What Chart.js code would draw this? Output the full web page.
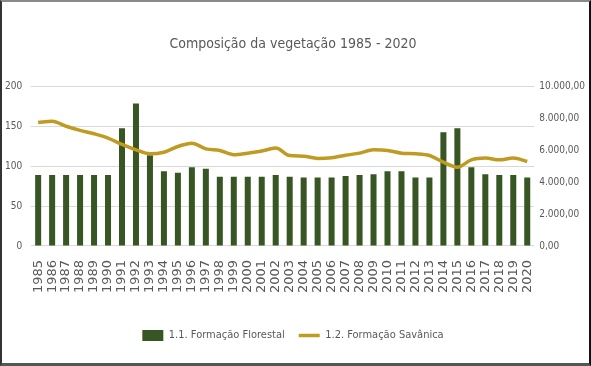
<!DOCTYPE html>
<html lang="pt-BR">
<head>
<meta charset="UTF-8">
<title>Composição da vegetação 1985 - 2020</title>
<script src="https://cdn.jsdelivr.net/npm/chart.js"></script>
<style>
  html, body { margin: 0; padding: 0; background: #fff; }
  #frame {
    width: 591px; height: 366px; box-sizing: border-box;
    border-top: 2px solid #8a8a8a; border-left: 2px solid #333;
    border-right: 2px solid #111; border-bottom: 3px solid #555;
    position: relative; overflow: hidden;
  }
  #wrap { position: absolute; left: 0; top: 0; width: 587px; height: 361px; }
</style>
</head>
<body>
<div id="frame"><div id="wrap"><canvas id="grafico"></canvas></div></div>
<script>
// Dados
const anos = ["1985","1986","1987","1988","1989","1990","1991","1992","1993","1994","1995","1996",
  "1997","1998","1999","2000","2001","2002","2003","2004","2005","2006","2007","2008",
  "2009","2010","2011","2012","2013","2014","2015","2016","2017","2018","2019","2020"];

// 1.1. Formação Florestal (eixo da esquerda)
const florestal = [89, 89, 89, 89, 89, 89, 148, 179, 114, 94, 92, 99,
  97, 87, 87, 87, 87, 89, 87, 86, 86, 86, 88, 89,
  90, 94, 94, 86, 86, 143, 148, 99, 90, 89, 89, 86];

// 1.2. Formação Savânica (eixo da direita)
const savanica = [7750, 7830, 7520, 7260, 7050, 6780, 6380, 6040, 5790, 5890, 6250, 6460,
  6100, 6000, 5730, 5830, 5960, 6150, 5680, 5640, 5500, 5540, 5700, 5830,
  6040, 6000, 5830, 5790, 5680, 5260, 4950, 5410, 5520, 5410, 5520, 5310];

const ticksEsquerda = [0, 50, 100, 150, 200];
const ticksDireita = [0, 2000, 4000, 6000, 8000, 10000];

const cinza = "#595959";
const fonteTexto = "'DejaVu Sans Condensed', Roboto, sans-serif";

function formataBR(v) {
  const partes = v.toFixed(2).split(".");
  partes[0] = partes[0].replace(/\B(?=(\d{3})+(?!\d))/g, ".");
  return partes.join(",");
}

const ctx = document.getElementById("grafico").getContext("2d");
new Chart(ctx, {
  data: {
    labels: anos,
    datasets: [
      {
        type: "line",
        label: "1.2. Formação Savânica",
        data: savanica,
        yAxisID: "y2",
        borderColor: "#c09b22",
        backgroundColor: "#c09b22",
        borderWidth: 3.5,
        pointRadius: 0,
        cubicInterpolationMode: "monotone",
        pointStyle: "line",
        order: 0
      },
      {
        type: "bar",
        label: "1.1. Formação Florestal",
        data: florestal,
        yAxisID: "y",
        backgroundColor: "#375623",
        borderWidth: 0,
        barPercentage: 0.5,
        categoryPercentage: 0.86,
        pointStyle: "rect",
        order: 1
      }
    ]
  },
  options: {
    responsive: true,
    maintainAspectRatio: false,
    animation: false,
    layout: { padding: { left: -6, right: -1, top: 0, bottom: 12 } },
    plugins: {
      title: {
        display: true,
        text: "Composição da vegetação 1985 - 2020",
        color: cinza,
        font: { family: fonteTexto, size: 14, weight: "normal" },
        padding: { top: 34, bottom: 34 }
      },
      legend: {
        position: "bottom",
        reverse: true,
        labels: {
          color: cinza,
          font: { family: fonteTexto, size: 11 },
          usePointStyle: true,
          pointStyleWidth: 21,
          boxHeight: 13,
          padding: 14
        }
      },
      tooltip: { enabled: false }
    },
    scales: {
      x: {
        grid: { display: false, drawTicks: false },
        border: { display: false },
        afterFit: (axis) => { axis.height += 9; },
        ticks: {
          color: cinza,
          font: { family: "'DejaVu Sans', sans-serif", size: 13 },
          minRotation: 90,
          maxRotation: 90,
          autoSkip: false,
          padding: 14
        }
      },
      y: {
        position: "left",
        min: 0,
        max: 200,
        afterBuildTicks: (axis) => { axis.ticks = ticksEsquerda.map(v => ({ value: v })); },
        grid: { color: "#d9d9d9", lineWidth: 1, drawTicks: false },
        border: { display: false },
        ticks: {
          color: cinza,
          font: { family: fonteTexto, size: 10 },
          padding: 9
        }
      },
      y2: {
        position: "right",
        min: 0,
        max: 10000,
        afterBuildTicks: (axis) => { axis.ticks = ticksDireita.map(v => ({ value: v })); },
        grid: { display: false, drawTicks: false },
        border: { display: false },
        ticks: {
          color: cinza,
          font: { family: fonteTexto, size: 10 },
          padding: 5,
          callback: (v) => formataBR(v)
        }
      }
    }
  }
});
</script>
</body>
</html>
